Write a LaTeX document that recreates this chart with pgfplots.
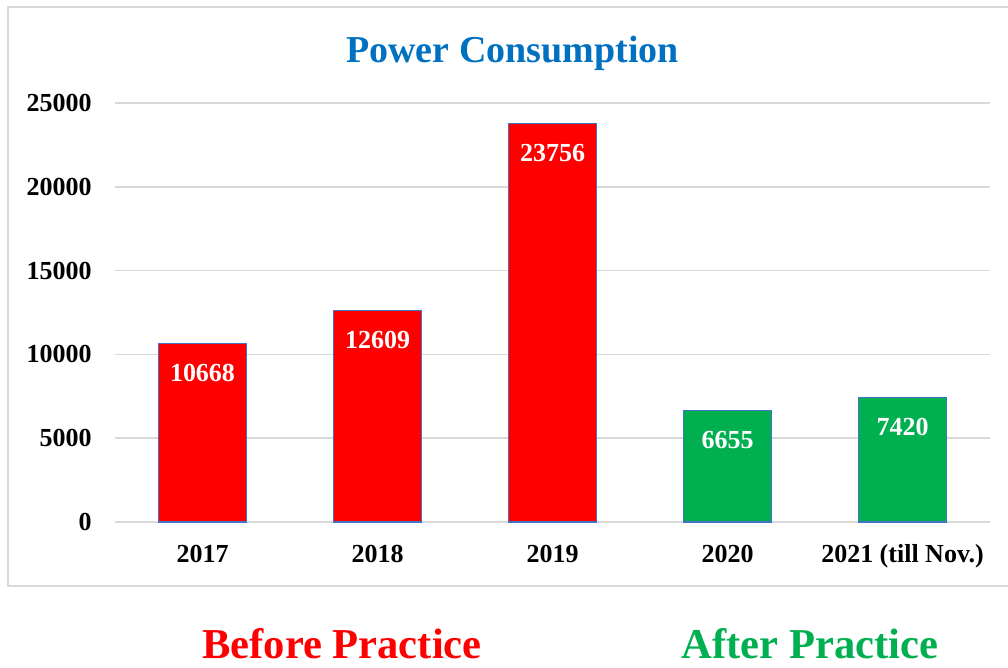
\documentclass[border=0pt]{standalone}
\usepackage{pgfplots}
\pgfplotsset{compat=1.18}
\usepackage{fontspec}
\setmainfont{Liberation Serif}
\definecolor{barred}{HTML}{FF0000}
\definecolor{bargreen}{HTML}{00B050}
\definecolor{edge}{HTML}{4472C4}
\definecolor{titleblue}{HTML}{0070C0}
\definecolor{gridgray}{HTML}{D9D9D9}
\newcommand\lab{\fontsize{13pt}{15pt}\selectfont\bfseries}
\begin{document}
\begin{tikzpicture}
\path[use as bounding box] (0pt,0pt) rectangle (504pt,334pt);
\draw[gridgray, line width=0.8pt] (4pt,41pt) rectangle (508pt,330.5pt);
\begin{axis}[
  at={(57.5pt,73pt)}, anchor=south west,
  scale only axis, width=437.5pt, height=209.5pt,
  xmin=-0.5, xmax=4.5, ymin=0, ymax=25000,
  axis line style={draw=none},
  major tick length=0pt,
  ytick={0,5000,10000,15000,20000,25000},
  ymajorgrids, grid style={gridgray, line width=0.8pt},
  scaled y ticks=false,
  /pgf/number format/assume math mode=true,
  /pgf/number format/1000 sep={},
  xtick={0,1,2,3,4},
  xticklabels={2017,2018,2019,2020,{2021 (till Nov.)}},
  yticklabel style={font=\lab, inner sep=0pt, anchor=east, xshift=-11.5pt},
  xticklabel style={font=\lab, inner sep=0pt, anchor=base, yshift=-20.5pt},
  clip=false,
]
\addplot[ybar, bar width=44pt, fill=barred, draw=edge, line width=0.6pt,
  nodes near coords, every node near coord/.append style={font=\lab, color=white, anchor=north, inner sep=0pt, yshift=-10pt}]
  coordinates {(0,10668) (1,12609) (2,23756)};
\addplot[ybar, bar width=44pt, fill=bargreen, draw=edge, line width=0.6pt,
  nodes near coords, every node near coord/.append style={font=\lab, color=white, anchor=north, inner sep=0pt, yshift=-10pt}]
  coordinates {(3,6655) (4,7420)};
\end{axis}
\node[anchor=base, inner sep=0pt, text=titleblue, font=\fontsize{19pt}{22pt}\selectfont\bfseries] at (256.25pt,302.5pt) {Power Consumption};
\node[anchor=base, inner sep=0pt, text=barred, font=\fontsize{21.3pt}{25pt}\selectfont\bfseries] at (171pt,4.5pt) {Before Practice};
\node[anchor=base, inner sep=0pt, text=bargreen, font=\fontsize{21.3pt}{25pt}\selectfont\bfseries] at (405pt,4.5pt) {After Practice};
\end{tikzpicture}
\end{document}
